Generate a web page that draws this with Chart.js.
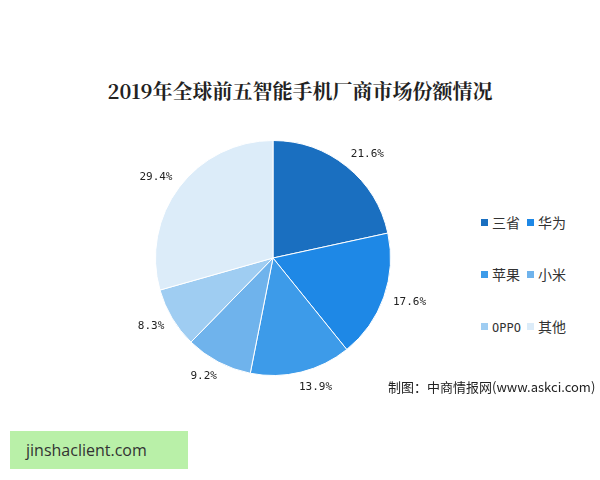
<!DOCTYPE html>
<html><head><meta charset="utf-8">
<script src="https://cdn.jsdelivr.net/npm/chart.js@4"></script>
<style>
body{margin:0;width:600px;height:480px;background:#fff;font-family:"Noto Sans CJK SC",sans-serif;position:relative;overflow:hidden}
#title{position:absolute;top:76px;left:0;width:600px;text-align:center;font-size:20px;font-weight:bold;color:#222;font-family:"Noto Serif CJK SC","Noto Sans CJK SC",serif}
#wrap{position:absolute;left:103px;top:88px;width:340px;height:340px}
#legend{position:absolute;left:481px;top:212px;display:grid;grid-template-columns:46px 50px;row-gap:32px;font-size:14px;color:#333;white-space:nowrap}
#legend span.sw{display:inline-block;width:7px;height:7px;margin-right:4px;vertical-align:2px}
#src{position:absolute;left:388px;top:377px;font-size:13px;color:#222}
#green{position:absolute;left:10px;top:431px;width:178px;height:38px;background:#b9f0a8;font-family:"Open Sans",sans-serif;font-size:16px;color:#333;line-height:38px;padding-left:16px;box-sizing:border-box}
</style></head><body>
<div id="title">2019年全球前五智能手机厂商市场份额情况</div>
<div id="wrap"><canvas id="c"></canvas></div>
<div id="legend"></div>
<div id="src">制图：中商情报网(www.askci.com)</div>
<div id="green">jinshaclient.com</div>
<script>
const brands = ["三省", "华为", "苹果", "小米", "OPPO", "其他"];
const shares = [21.6, 17.6, 13.9, 9.2, 8.3, 29.4];
const colors = ["#1a6fc0", "#1e88e6", "#3d9be9", "#6fb3ec", "#9fcdf2", "#dcecf9"];

// legend
const lg = document.getElementById("legend");
brands.forEach((b, i) => {
  const f = /^[A-Z]+$/.test(b) ? " style=\"font-family:'DejaVu Sans Mono';font-size:12px\"" : "";
  lg.innerHTML += `<div><span class="sw" style="background:${colors[i]}"></span><span${f}>${b}</span></div>`;
});

// outside % labels
const outLabels = {
  id: "outLabels",
  afterDatasetsDraw(chart) {
    const ctx = chart.ctx;
    ctx.save();
    ctx.font = "11px 'DejaVu Sans Mono'";
    ctx.fillStyle = "#222";
    ctx.textBaseline = "middle";
    chart.getDatasetMeta(0).data.forEach((arc, i) => {
      const a = (arc.startAngle + arc.endAngle) / 2;
      const r = arc.outerRadius + 16;
      const x = arc.x + Math.cos(a) * r, y = arc.y + Math.sin(a) * r;
      ctx.textAlign = Math.cos(a) >= 0 ? "left" : "right";
      ctx.fillText(shares[i].toFixed(1) + "%", x + (Math.cos(a) >= 0 ? -6 : 6), y);
    });
    ctx.restore();
  }
};

new Chart(document.getElementById("c"), {
  type: "pie",
  data: { labels: brands, datasets: [{ data: shares, backgroundColor: colors, borderColor: "#fff", borderWidth: 1 }] },
  options: {
    responsive: true, maintainAspectRatio: false, animation: false,
    layout: { padding: 52 },
    plugins: { legend: { display: false }, tooltip: { enabled: false } }
  },
  plugins: [outLabels]
});
</script>
</body></html>
